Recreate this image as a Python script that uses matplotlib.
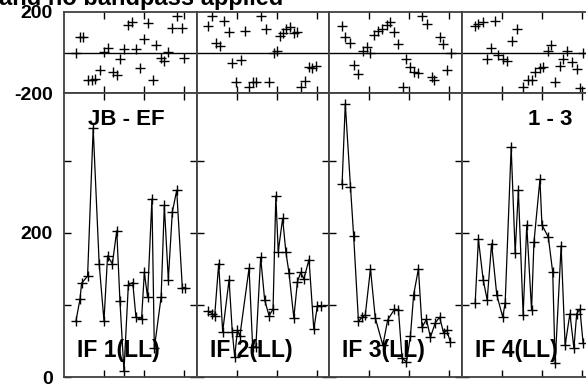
import matplotlib
matplotlib.use("Agg")
import matplotlib.pyplot as plt

plt.rcParams['font.family'] = ['Liberation Sans', 'DejaVu Sans']
plt.rcParams['font.weight'] = 'bold'

# ---- data (time in panel units, phase in degrees, amplitude) ----
if_labels = ["IF 1(LL)", "IF 2(LL)", "IF 3(LL)", "IF 4(LL)"]
baseline_label = "JB - EF"
stokes_label = "1 - 3"
title_text = "and no bandpass applied"

phase_t1 = [0.30,0.40,0.48,0.59,0.69,0.78,0.90,1.01,1.09,1.23,1.32,1.40,1.50,1.61,1.71,1.80,1.90,2.01,2.11,2.22,2.30,2.43,2.51,2.61,2.71,2.82,2.94,3.01]
phase_v1 = [-4,75,75,-136,-136,-131,-86,4,21,-95,-111,-34,16,136,152,16,-78,65,147,-136,37,-29,-42,4,119,180,119,-29]
amp_t1 = [0.30,0.40,0.44,0.59,0.73,0.88,1.00,1.09,1.21,1.32,1.40,1.50,1.61,1.72,1.80,1.94,2.01,2.09,2.20,2.26,2.43,2.51,2.61,2.71,2.82,2.96,3.03]
amp_v1 = [78,108,130,140,345,157,78,168,157,203,105,8,128,131,83,80,145,111,247,40,111,238,135,229,259,124,124]

phase_t2 = [0.28,0.39,0.48,0.58,0.68,0.81,0.89,0.99,1.12,1.20,1.31,1.41,1.49,1.60,1.73,1.81,1.93,2.01,2.09,2.16,2.24,2.33,2.43,2.51,2.60,2.70,2.81,2.89,2.99]
phase_v2 = [131,180,48,32,157,103,-53,-144,-37,108,-172,-144,-144,180,115,-144,-4,9,82,98,115,124,98,103,-172,-139,-73,-78,-67]
amp_t2 = [0.28,0.39,0.45,0.55,0.65,0.81,0.89,0.95,1.02,1.08,1.31,1.40,1.48,1.60,1.70,1.81,1.91,1.98,2.04,2.15,2.23,2.31,2.43,2.52,2.60,2.68,2.81,2.93,3.02,3.12]
amp_v2 = [91,88,85,157,63,135,63,28,65,57,151,42,42,166,107,85,94,251,174,220,174,144,82,132,145,136,163,66,99,99]

phase_t3 = [0.32,0.40,0.51,0.61,0.73,0.84,0.94,1.03,1.13,1.23,1.32,1.44,1.51,1.61,1.73,1.84,1.93,2.03,2.11,2.21,2.33,2.44,2.57,2.61,2.76,2.84,2.94,3.05]
phase_v3 = [131,75,48,-62,-106,9,29,-4,86,108,115,136,152,103,42,-169,-34,-70,-95,-103,180,141,-123,-136,75,42,-86,-4]
amp_t3 = [0.32,0.40,0.53,0.61,0.73,0.82,0.90,1.03,1.15,1.34,1.46,1.63,1.73,1.82,1.93,2.03,2.11,2.23,2.32,2.43,2.53,2.65,2.76,2.86,2.94,3.03]
amp_v3 = [268,379,264,195,77,83,86,150,82,44,79,94,93,26,21,57,114,150,69,80,55,75,83,61,65,48]

phase_t4 = [0.33,0.41,0.53,0.62,0.72,0.83,0.91,1.02,1.12,1.24,1.37,1.53,1.66,1.74,1.83,1.95,2.03,2.16,2.22,2.33,2.45,2.53,2.63,2.74,2.87,2.95,3.03]
phase_v4 = [131,141,152,-34,21,157,-12,-34,-40,58,115,-172,-136,-136,-95,-78,-70,9,37,-144,-67,-34,9,-45,-83,-177,-1]
amp_t4 = [0.33,0.41,0.53,0.63,0.74,0.87,1.02,1.08,1.23,1.33,1.41,1.53,1.62,1.74,1.80,1.95,2.00,2.16,2.27,2.33,2.48,2.58,2.70,2.80,2.87,2.95,3.03]
amp_v4 = [103,191,135,107,185,114,83,103,319,172,259,86,211,93,187,274,211,194,145,19,182,44,88,40,88,94,47]

phase_t = [phase_t1, phase_t2, phase_t3, phase_t4]
phase_v = [phase_v1, phase_v2, phase_v3, phase_v4]
amp_t = [amp_t1, amp_t2, amp_t3, amp_t4]
amp_v = [amp_v1, amp_v2, amp_v3, amp_v4]

phase_ticks = [-200, 200]
phase_tick_labels = ["-200", "200"]
amp_ticks = [0, 100, 200, 300]
amp_tick_labels = ["0", "", "200", ""]
time_ticks = [1, 2, 3]

# ---- layout ----
W, H = 586, 384
fig = plt.figure(figsize=(W / 100, H / 100), dpi=100)

def fx(px):
    return px / W

def fy(py):
    return 1 - py / H

panel_left = [64, 196.7, 329.3, 462]
panel_w = 132.7
top_y0, top_y1 = 12, 93
bot_y0, bot_y1 = 93, 377

frame_col = '#404040'

def style(ax):
    for s in ax.spines.values():
        s.set_color(frame_col)
        s.set_linewidth(1.3)
    ax.tick_params(axis='both', which='both', direction='in', length=5,
                   width=1.0, color='black', top=True, right=True,
                   labelsize=14, pad=8)
    ax.set_xlim(0, 3.32)
    ax.set_xticks(time_ticks)
    ax.set_xticklabels([])

for i in range(4):
    x0 = panel_left[i]
    axp = fig.add_axes([fx(x0), fy(top_y1), panel_w / W, (top_y1 - top_y0) / H])
    style(axp)
    axp.set_ylim(-200, 200)
    axp.axhline(0, color='black', lw=1.0)
    axp.plot(phase_t[i], phase_v[i], ls='none', marker='+', ms=6.5, mew=1.0, color='black')
    axp.set_yticks(phase_ticks)
    if i == 0:
        axp.set_yticklabels(phase_tick_labels, fontweight='bold')
    else:
        axp.set_yticklabels([])
    axp.tick_params(axis='y', length=0)

    axa = fig.add_axes([fx(x0), fy(bot_y1), panel_w / W, (bot_y1 - bot_y0) / H])
    style(axa)
    axa.set_ylim(0, 394)
    axa.plot(amp_t[i], amp_v[i], ls='-', lw=0.9, marker='+', ms=6.5, mew=1.0, color='black')
    axa.set_yticks(amp_ticks)
    if i == 0:
        axa.set_yticklabels(amp_tick_labels, fontweight='bold')
    else:
        axa.set_yticklabels([])
    axa.text(13 / panel_w, 1 - (357 - bot_y0) / (bot_y1 - bot_y0), if_labels[i],
             transform=axa.transAxes, fontsize=16.5, fontweight='bold',
             ha='left', va='baseline')

fig.text(fx(88), fy(125), baseline_label, fontsize=16, fontweight='bold', ha='left', va='baseline')
fig.text(fx(572), fy(125), stokes_label, fontsize=16, fontweight='bold', ha='right', va='baseline')
fig.text(fx(-1), fy(5), title_text, fontsize=17, fontweight='bold', ha='left', va='baseline')

fig.savefig("out.png", dpi=100)
